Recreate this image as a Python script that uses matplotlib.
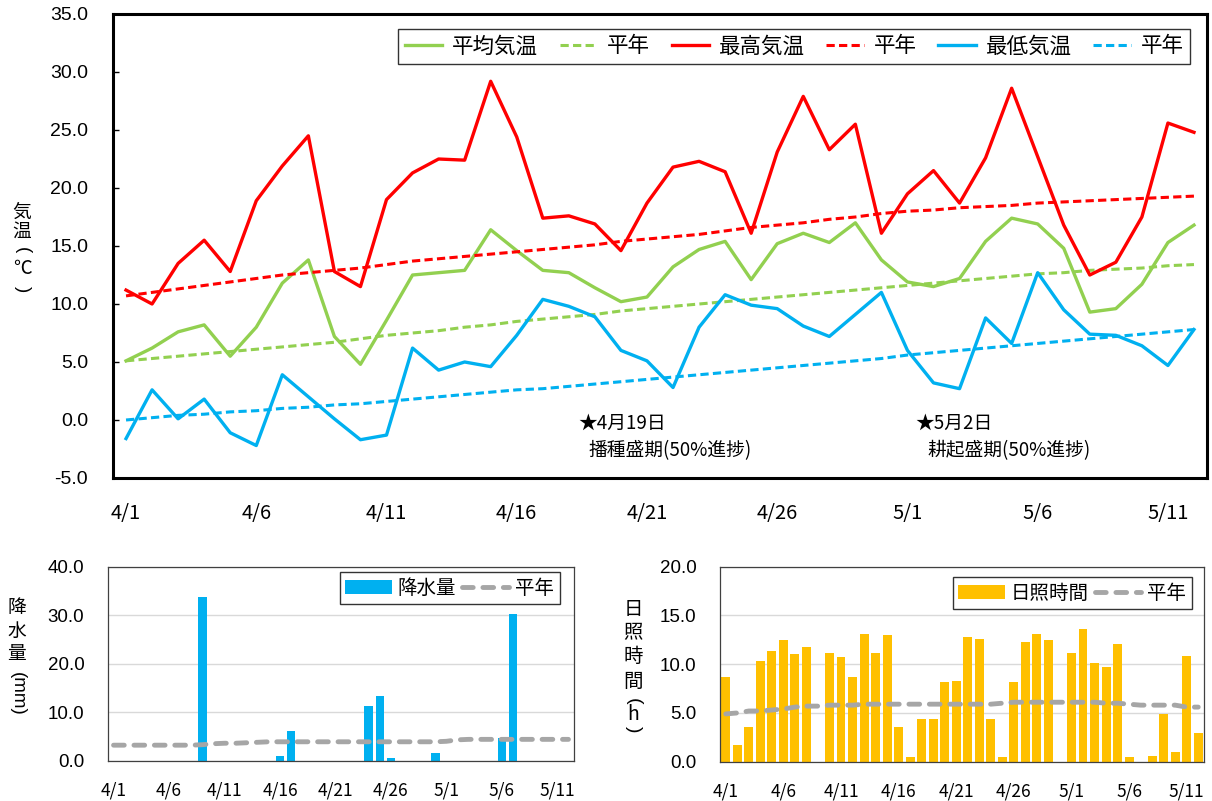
import matplotlib

matplotlib.use("Agg")

import matplotlib.pyplot as plt

plt.rcParams["font.family"] = ["Liberation Sans", "Noto Sans CJK JP"]
plt.rcParams["axes.unicode_minus"] = False

JP = ["Noto Sans CJK JP", "DejaVu Sans"]
W, H = 1212, 801

dates = [f"4/{d}" for d in range(1, 31)] + [f"5/{d}" for d in range(1, 13)]
tick_idx = [0, 5, 10, 15, 20, 25, 30, 35, 40]

# daily temperatures (deg C)
temp_mean = [5.1, 6.2, 7.6, 8.2, 5.5, 8.0, 11.8, 13.8, 7.2, 4.8,
             8.6, 12.5, 12.7, 12.9, 16.4, 14.6, 12.9, 12.7, 11.4, 10.2,
             10.6, 13.2, 14.7, 15.4, 12.1, 15.2, 16.1, 15.3, 17.0, 13.8,
             11.9, 11.5, 12.2, 15.4, 17.4, 16.9, 14.8, 9.3, 9.6, 11.7,
             15.3, 16.8]
temp_mean_norm = [5.1, 5.3, 5.5, 5.7, 5.9, 6.1, 6.3, 6.5, 6.7, 7.0,
                  7.3, 7.5, 7.7, 8.0, 8.2, 8.5, 8.7, 8.9, 9.1, 9.4,
                  9.6, 9.8, 10.0, 10.2, 10.4, 10.6, 10.8, 11.0, 11.2, 11.4,
                  11.6, 11.8, 12.0, 12.2, 12.4, 12.6, 12.7, 12.9, 13.0, 13.1,
                  13.3, 13.4]
temp_max = [11.2, 10.0, 13.5, 15.5, 12.8, 18.9, 21.9, 24.5, 12.8, 11.5,
            19.0, 21.3, 22.5, 22.4, 29.2, 24.4, 17.4, 17.6, 16.9, 14.6,
            18.7, 21.8, 22.3, 21.4, 16.1, 23.1, 27.9, 23.3, 25.5, 16.1,
            19.5, 21.5, 18.7, 22.6, 28.6, 22.7, 16.8, 12.5, 13.6, 17.5,
            25.6, 24.8]
temp_max_norm = [10.7, 11.0, 11.3, 11.6, 11.9, 12.2, 12.5, 12.7, 12.9, 13.1,
                 13.4, 13.7, 13.9, 14.1, 14.3, 14.5, 14.7, 14.9, 15.1, 15.4,
                 15.6, 15.8, 16.0, 16.3, 16.6, 16.8, 17.0, 17.3, 17.5, 17.8,
                 18.0, 18.1, 18.3, 18.4, 18.5, 18.7, 18.8, 18.9, 19.0, 19.1,
                 19.2, 19.3]
temp_min = [-1.6, 2.6, 0.1, 1.8, -1.1, -2.2, 3.9, 2.0, 0.1, -1.7,
            -1.3, 6.2, 4.3, 5.0, 4.6, 7.3, 10.4, 9.8, 8.9, 6.0,
            5.1, 2.8, 8.0, 10.8, 9.9, 9.6, 8.1, 7.2, 9.1, 11.0,
            6.0, 3.2, 2.7, 8.8, 6.6, 12.7, 9.5, 7.4, 7.3, 6.4,
            4.7, 7.8]
temp_min_norm = [0.0, 0.2, 0.4, 0.5, 0.7, 0.8, 1.0, 1.1, 1.3, 1.4,
                 1.6, 1.8, 2.0, 2.2, 2.4, 2.6, 2.7, 2.9, 3.1, 3.3,
                 3.5, 3.7, 3.9, 4.1, 4.3, 4.5, 4.7, 4.9, 5.1, 5.3,
                 5.6, 5.8, 6.0, 6.2, 6.4, 6.6, 6.8, 7.0, 7.2, 7.4,
                 7.6, 7.8]

# precipitation (mm)
precip = [0, 0, 0, 0, 0, 0, 0, 0, 33.7, 0,
          0, 0, 0, 0, 0, 1.0, 6.1, 0, 0, 0,
          0, 0, 0, 11.3, 13.3, 0.5, 0, 0, 0, 1.6,
          0, 0, 0, 0, 0, 4.6, 30.2, 0, 0, 0,
          0, 0]
precip_norm = [3.2, 3.2, 3.2, 3.2, 3.2, 3.2, 3.2, 3.2, 3.3, 3.5,
               3.6, 3.6, 3.7, 3.8, 3.9, 3.9, 3.9, 3.9, 3.9, 3.9,
               3.9, 3.9, 3.9, 3.9, 3.9, 3.9, 3.9, 3.9, 3.9, 3.9,
               4.0, 4.3, 4.4, 4.4, 4.4, 4.4, 4.4, 4.4, 4.4, 4.4,
               4.4, 4.4]

# sunshine duration (h)
sunshine = [8.7, 1.7, 3.6, 10.3, 11.4, 12.5, 11.0, 11.8, 0, 11.1,
            10.7, 8.7, 13.1, 11.1, 13.0, 3.6, 0.5, 4.4, 4.4, 8.2,
            8.3, 12.8, 12.6, 4.4, 0.5, 8.2, 12.3, 13.1, 12.5, 0,
            11.2, 13.6, 10.1, 9.7, 12.1, 0.5, 0, 0.6, 4.9, 1.0,
            10.8, 2.9]
sunshine_norm = [4.9, 5.0, 5.2, 5.2, 5.3, 5.4, 5.6, 5.7, 5.7, 5.8,
                 5.8, 5.8, 5.9, 5.9, 5.9, 5.9, 5.9, 5.9, 5.9, 5.9,
                 5.9, 5.9, 5.9, 5.9, 6.0, 6.1, 6.1, 6.1, 6.1, 6.1,
                 6.1, 6.1, 6.1, 6.0, 6.0, 5.9, 5.8, 5.8, 5.8, 5.8,
                 5.6, 5.6]

GREEN, RED, BLUE = "#92D050", "#FF0000", "#00B0F0"
GOLD, GRAY = "#FFC000", "#A6A6A6"

x = list(range(len(dates)))
fig = plt.figure(figsize=(W / 100, H / 100), dpi=100)


def fx(px):
    return px / W


def fy(py):
    return 1 - py / H


def vlabel(xpx, items, size):
    # stack characters vertically, like Excel's vertical axis title
    for ch, ypx, rot in items:
        fam = JP if rot == 0 else ["Liberation Sans"]
        fig.text(fx(xpx), fy(ypx), ch, ha="center", va="center",
                 fontsize=size, family=fam, rotation=rot)


def legend_box(a, handles, labels, right, top, size, **kw):
    lg = a.legend(handles, labels, ncol=len(handles), loc="upper right",
                  bbox_to_anchor=(fx(right), fy(top)),
                  bbox_transform=fig.transFigure, borderaxespad=0,
                  prop={"family": JP, "size": size}, fancybox=False,
                  edgecolor="black", borderpad=0.3, **kw)
    lg.get_frame().set_linewidth(1.0)
    return lg


# ---- temperature ----
ax = fig.add_axes([fx(113), fy(478), fx(1207) - fx(113), fy(14) - fy(478)])
dash = (2.7, 1.4)
ax.plot(x, temp_mean, color=GREEN, lw=2.4, label="平均気温")
ax.plot(x, temp_mean_norm, color=GREEN, lw=2.2, dashes=dash, label="平年")
ax.plot(x, temp_max, color=RED, lw=2.4, label="最高気温")
ax.plot(x, temp_max_norm, color=RED, lw=2.2, dashes=dash, label="平年")
ax.plot(x, temp_min, color=BLUE, lw=2.4, label="最低気温")
ax.plot(x, temp_min_norm, color=BLUE, lw=2.2, dashes=dash, label="平年")
ax.set_xlim(-0.5, len(dates) - 0.5)
ax.set_ylim(-5, 35)
ax.set_yticks(range(-5, 36, 5))
ax.set_yticklabels([f"{v:.1f}" for v in range(-5, 36, 5)], fontsize=14)
ax.set_xticks([x[i] for i in tick_idx])
ax.set_xticklabels([dates[i] for i in tick_idx], fontsize=14.5, family=JP)
ax.tick_params(axis="y", direction="in", length=4, width=1, pad=18)
ax.tick_params(axis="x", length=0, pad=18)
for s in ax.spines.values():
    s.set_linewidth(2.2)
    s.set_color("black")
h, l = ax.get_legend_handles_labels()
legend_box(ax, h, l, 1190, 29, 15.5, handlelength=1.75, handletextpad=0.45,
           columnspacing=1.0)

ax.text(17.35, -0.3, "★4月19日", fontsize=13.5, family=JP, va="center")
ax.text(17.75, -2.6, "播種盛期(50%進捗)", fontsize=13.5, family=JP, va="center")
ax.text(30.3, -0.3, "★5月2日", fontsize=13.5, family=JP, va="center")
ax.text(30.75, -2.6, "耕起盛期(50%進捗)", fontsize=13.5, family=JP, va="center")

vlabel(22, [("気", 212, 0), ("温", 231, 0), ("(", 250, -90), ("℃", 269, 0),
            (")", 289, -90)], 13.5)


def bottom_axes(rect, ymax, ystep):
    b = fig.add_axes(rect)
    b.set_xlim(-0.5, len(dates) - 0.5)
    b.set_ylim(0, ymax)
    ticks = [i * ystep for i in range(int(ymax / ystep) + 1)]
    b.set_yticks(ticks)
    b.set_yticklabels([f"{v:.1f}" for v in ticks], fontsize=13.5)
    b.set_xticks([x[i] for i in tick_idx])
    b.set_xticklabels([dates[i] for i in tick_idx], fontsize=12.5, family=JP)
    b.tick_params(axis="y", length=0, pad=17)
    b.tick_params(axis="x", length=0, pad=15)
    b.grid(axis="y", color="#D9D9D9", lw=1)
    b.set_axisbelow(True)
    for s in b.spines.values():
        s.set_linewidth(0.9)
        s.set_color("#404040")
    return b


# ---- precipitation ----
bl = bottom_axes([fx(108), fy(760.7), fx(574) - fx(108), fy(566.7) - fy(760.7)], 40, 10)
bars = bl.bar(x, precip, width=0.78, color=BLUE, zorder=2)
norm, = bl.plot(x, precip_norm, color=GRAY, lw=3.5, dashes=(2.2, 2.0),
                dash_capstyle="round", zorder=3)
legend_box(bl, [bars, norm], ["降水量", "平年"], 559.5, 571.7, 14,
           handlelength=2.4, handletextpad=0.3, columnspacing=0.3)
vlabel(17, [("降", 608, 0), ("水", 631, 0), ("量", 654, 0), ("(mm)", 694, -90)], 13.5)

# ---- sunshine ----
br = bottom_axes([fx(720), fy(761.7), fx(1204) - fx(720), fy(566.7) - fy(761.7)], 20, 5)
bars = br.bar(x, sunshine, width=0.78, color=GOLD, zorder=2)
norm, = br.plot(x, sunshine_norm, color=GRAY, lw=3.5, dashes=(2.2, 2.0),
                dash_capstyle="round", zorder=3)
legend_box(br, [bars, norm], ["日照時間", "平年"], 1192, 576.7, 14,
           handlelength=2.4, handletextpad=0.3, columnspacing=0.3)
vlabel(633, [("日", 609, 0), ("照", 633, 0), ("時", 657, 0), ("間", 681, 0),
             ("(", 701, -90), ("h", 715, 0), (")", 729, -90)], 14)

fig.savefig("out.png", dpi=100)
